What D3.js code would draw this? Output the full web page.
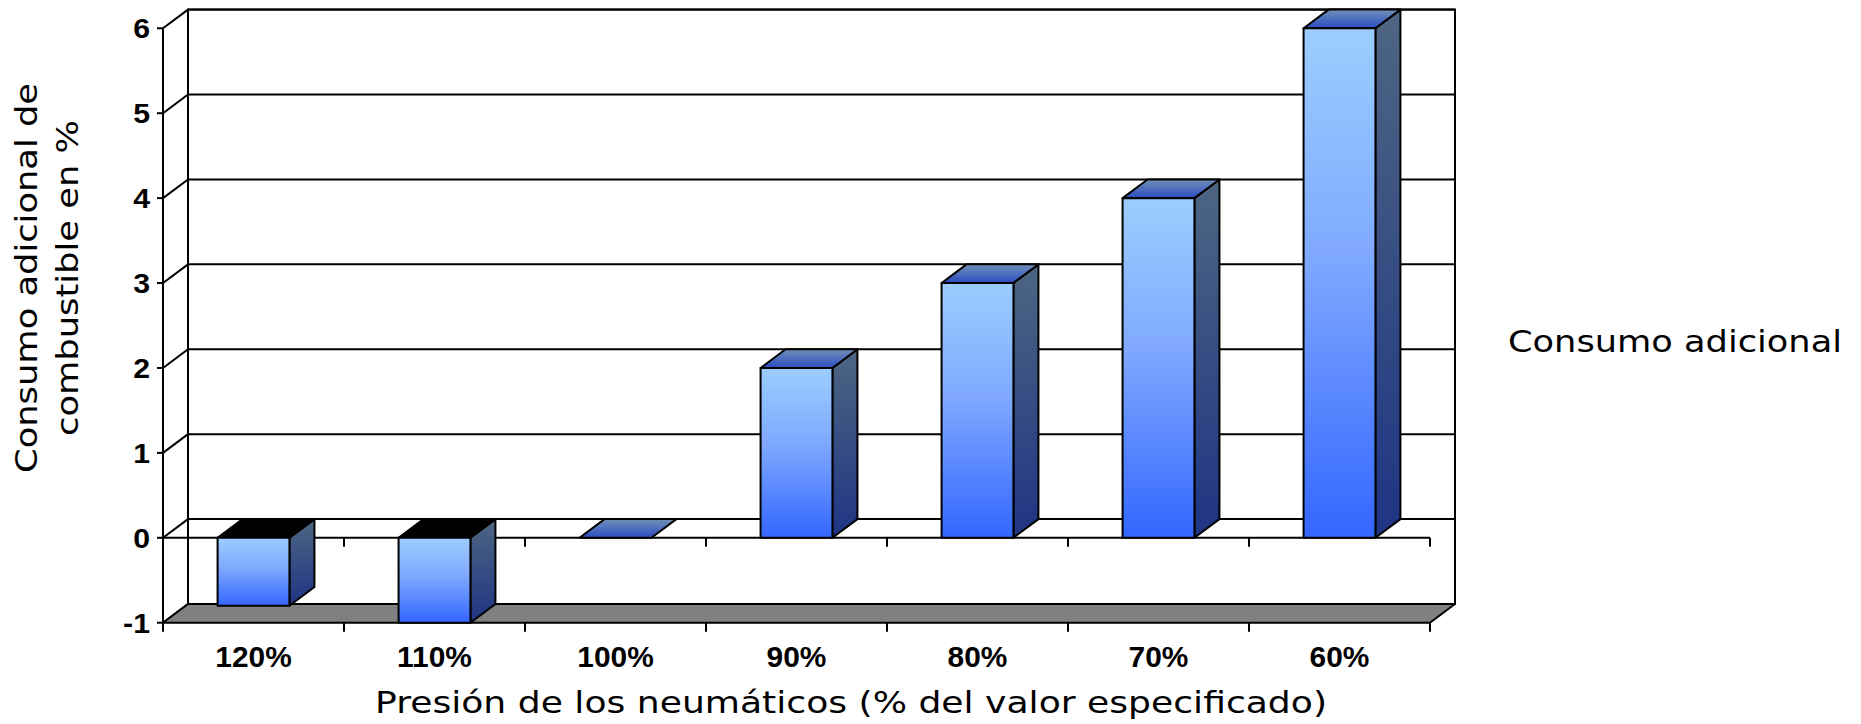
<!DOCTYPE html>
<html>
<head>
<meta charset="utf-8">
<script src="https://cdn.jsdelivr.net/npm/d3@7"></script>
<style>
  body { margin: 0; background: #fff; }
  svg { display: block; }
</style>
</head>
<body>
<div id="chart"></div>
<script>
const categories = ["120%", "110%", "100%", "90%", "80%", "70%", "60%"];
const values = [-0.8, -1, 0, 2, 3, 4, 6];
const yTicks = [-1, 0, 1, 2, 3, 4, 5, 6];
const seriesName = "Consumo adicional";
const yTitleLines = ["Consumo adicional de", "combustible en %"];
const xTitle = "Presión de los neumáticos (% del valor especificado)";

const width = 1861,
      height = 724;

// front plane of the 3d box, and the depth shift towards the back wall
const plotLeft = 163, plotRight = 1430, plotTop = 28.3, plotBottom = 622.7;
const dx = 25, dy = 18.7;

const svg = d3.select("#chart").append("svg")
    .attr("width", width)
    .attr("height", height);

const defs = svg.append("defs");

function grad(id, stops) {
    const g = defs.append("linearGradient")
        .attr("id", id)
        .attr("x1", 0).attr("y1", 0)
        .attr("x2", 0).attr("y2", 1);
    stops.forEach(s => g.append("stop").attr("offset", s[0]).attr("stop-color", s[1]));
}
grad("frontGrad", [[0, "#9dcdff"], [0.45, "#7fa8ff"], [1, "#3366ff"]]);
grad("sideGrad", [[0, "#4e6682"], [1, "#1f3484"]]);
grad("topGrad", [[0, "#7190b8"], [1, "#2b4cc2"]]);

const x = d3.scaleBand()
    .domain(categories)
    .range([plotLeft, plotRight])
    .padding(0);

const y = d3.scaleLinear()
    .domain([d3.min(yTicks), d3.max(yTicks)])
    .range([plotBottom, plotTop]);

const barW = x.bandwidth() * 0.397;
const y0 = y(0);

const pts = arr => arr.map(p => p.join(",")).join(" ");

// back wall
svg.append("rect")
    .attr("x", plotLeft + dx)
    .attr("y", y(6) - dy)
    .attr("width", plotRight - plotLeft)
    .attr("height", y(-1) - y(6))
    .attr("fill", "#fff")
    .attr("stroke", "#000")
    .attr("stroke-width", 2);

// gridlines on back wall and left wall
const grid = svg.append("g").attr("stroke", "#000").attr("stroke-width", 2);
yTicks.forEach(t => {
    grid.append("line")
        .attr("x1", plotLeft + dx).attr("x2", plotRight + dx)
        .attr("y1", y(t) - dy).attr("y2", y(t) - dy);
    grid.append("line")
        .attr("x1", plotLeft).attr("x2", plotLeft + dx)
        .attr("y1", y(t)).attr("y2", y(t) - dy);
});

// floor
svg.append("polygon")
    .attr("points", pts([[plotLeft, y(-1)], [plotRight, y(-1)], [plotRight + dx, y(-1) - dy], [plotLeft + dx, y(-1) - dy]]))
    .attr("fill", "#808080")
    .attr("stroke", "#000")
    .attr("stroke-width", 2)
    .attr("stroke-linejoin", "round");

// zero plane front edge
svg.append("line")
    .attr("x1", plotLeft).attr("x2", plotRight)
    .attr("y1", y0).attr("y2", y0)
    .attr("stroke", "#000")
    .attr("stroke-width", 2);

// ticks hanging from the zero line
svg.append("g").selectAll("line")
    .data(d3.range(1, categories.length + 1))
    .join("line")
    .attr("x1", k => plotLeft + k * x.step())
    .attr("x2", k => plotLeft + k * x.step())
    .attr("y1", y0).attr("y2", y0 + 9)
    .attr("stroke", "#000")
    .attr("stroke-width", 2);

// bars
const bars = svg.append("g")
    .attr("stroke", "#000")
    .attr("stroke-width", 2)
    .attr("stroke-linejoin", "round");

categories.forEach((c, i) => {
    const v = values[i];
    const x1 = x(c) + (x.bandwidth() - barW) / 2;
    const x2 = x1 + barW;
    const yv = y(v);
    const yTop = Math.min(yv, y0), yBot = Math.max(yv, y0);

    if (yBot > yTop) {
        bars.append("polygon")
            .attr("points", pts([[x2, yTop], [x2 + dx, yTop - dy], [x2 + dx, yBot - dy], [x2, yBot]]))
            .attr("fill", "url(#sideGrad)");
    }
    bars.append("polygon")
        .attr("points", pts([[x1, yTop], [x1 + dx, yTop - dy], [x2 + dx, yTop - dy], [x2, yTop]]))
        .attr("fill", v < 0 ? "#000" : "url(#topGrad)");
    if (yBot > yTop) {
        bars.append("rect")
            .attr("x", x1)
            .attr("y", yTop)
            .attr("width", barW)
            .attr("height", yBot - yTop)
            .attr("fill", "url(#frontGrad)");
    }
});

// y axis
const yAxis = svg.append("g");
yAxis.append("line")
    .attr("x1", plotLeft).attr("x2", plotLeft)
    .attr("y1", y(6)).attr("y2", y(-1))
    .attr("stroke", "#000")
    .attr("stroke-width", 2);

yAxis.selectAll(".tick")
    .data(yTicks)
    .join("line")
    .attr("class", "tick")
    .attr("x1", plotLeft - 6).attr("x2", plotLeft)
    .attr("y1", d => y(d)).attr("y2", d => y(d))
    .attr("stroke", "#000")
    .attr("stroke-width", 2);

// stretch the bold labels a little, as in the original
function stretch(node, k) {
    const w = node.getComputedTextLength();
    d3.select(node).attr("textLength", w * k).attr("lengthAdjust", "spacingAndGlyphs");
}

yAxis.selectAll("text")
    .data(yTicks)
    .join("text")
    .attr("x", 150)
    .attr("y", d => y(d) + 10)
    .attr("text-anchor", "end")
    .attr("font-family", "'Liberation Sans', Arial, sans-serif")
    .attr("font-weight", "bold")
    .attr("font-size", 27)
    .text(d => d)
    .each(function() { stretch(this, 1.12); });

// x axis along the floor
svg.append("g").selectAll("line")
    .data(d3.range(categories.length + 1))
    .join("line")
    .attr("x1", k => plotLeft + k * x.step())
    .attr("x2", k => plotLeft + k * x.step())
    .attr("y1", y(-1)).attr("y2", y(-1) + 9)
    .attr("stroke", "#000")
    .attr("stroke-width", 2);

svg.append("g").selectAll("text")
    .data(categories)
    .join("text")
    .attr("x", d => x(d) + x.bandwidth() / 2)
    .attr("y", 667)
    .attr("text-anchor", "middle")
    .attr("font-family", "'Liberation Sans', Arial, sans-serif")
    .attr("font-weight", "bold")
    .attr("font-size", 29)
    .text(d => d)
    .each(function() { stretch(this, 1.03); });

const titleFont = "'DejaVu Sans', Verdana, sans-serif";

// axis titles
svg.append("text")
    .attr("x", 851)
    .attr("y", 713)
    .attr("text-anchor", "middle")
    .attr("font-family", titleFont)
    .attr("font-size", 31)
    .attr("textLength", 952)
    .attr("lengthAdjust", "spacingAndGlyphs")
    .text(xTitle);

const yTitleBase = [37, 78];
const yTitleLen = [390, 316];
yTitleLines.forEach((line, i) => {
    svg.append("text")
        .attr("transform", `translate(${yTitleBase[i]},278) rotate(-90)`)
        .attr("text-anchor", "middle")
        .attr("font-family", titleFont)
        .attr("font-size", 31)
        .attr("textLength", yTitleLen[i])
        .attr("lengthAdjust", "spacingAndGlyphs")
        .text(line);
});

// legend (no swatch in the original)
svg.append("text")
    .attr("x", 1508)
    .attr("y", 352)
    .attr("font-family", titleFont)
    .attr("font-size", 31)
    .attr("textLength", 334)
    .attr("lengthAdjust", "spacingAndGlyphs")
    .text(seriesName);
</script>
</body>
</html>
